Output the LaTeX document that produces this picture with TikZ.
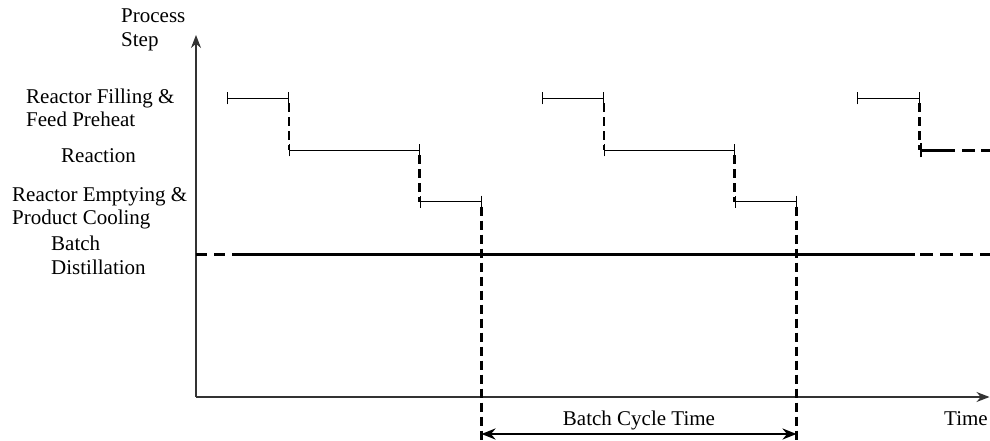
\documentclass[tikz,border=0pt]{standalone}
\usepackage{fontspec}
\setmainfont{Liberation Serif}
\usetikzlibrary{arrows.meta}
\begin{document}
\begin{tikzpicture}[x=1pt,y=-1pt,
  lbl/.style={anchor=base west, inner sep=0pt, font=\fontsize{21}{23}\selectfont},
  axisline/.style={draw=black!80, line width=1.1pt},
  barline/.style={line width=1pt, {Bar[width=12pt]}-{Bar[width=12pt]}},
  dashv/.style={line width=2.4pt, dash pattern=on 9pt off 5pt},
  dashh/.style={line width=2.4pt, dash pattern=on 11pt off 7pt},
  thickline/.style={line width=2.4pt},
  cyctip/.tip={Stealth[length=14pt,width=11pt]},
  axtip/.tip={Stealth[length=13pt,width=10pt]}]
\useasboundingbox (0,0) rectangle (990,441);

% axes
\coordinate (O) at (196,397);
\coordinate (Ytip) at (196,35);
\coordinate (Xtip) at (989.5,397);
\draw[axisline,-{axtip}] (O) -- (Ytip);
\draw[axisline,-{axtip}] (O) -- (Xtip);

% labels
\node[lbl] (process) at (121,22.7) {Process};
\node[lbl] (step) at (121,47) {Step};
\node[lbl] (fill1) at (26,104) {Reactor Filling \&};
\node[lbl] (fill2) at (26,126.7) {Feed Preheat};
\node[lbl] (react) at (61,162.3) {Reaction};
\node[lbl] (empt1) at (12,201.5) {Reactor Emptying \&};
\node[lbl] (empt2) at (12,224) {Product Cooling};
\node[lbl] (dist1) at (51,250.7) {Batch};
\node[lbl] (dist2) at (51,274) {Distillation};
\node[lbl, anchor=base] (bct) at (639,425) {Batch Cycle Time};
\node[lbl] (time) at (944,425) {Time};

% two full cycles
\foreach \k/\d in {1/0,2/315}{
  \coordinate (fs\k) at (226.7+\d,98.3);
  \coordinate (fe\k) at (289+\d,98.3);
  \coordinate (rs\k) at (289+\d,150.3);
  \coordinate (re\k) at (419.5+\d,150.3);
  \coordinate (es\k) at (419.5+\d,201.7);
  \coordinate (ee\k) at (481.5+\d,201.7);
  \coordinate (eb\k) at (481.5+\d,441);
  \draw[barline] (fs\k) -- (fe\k);
  \draw[barline] (rs\k) -- (re\k);
  \draw[barline] (es\k) -- (ee\k);
  \draw[dashv] (fe\k) ++(0,5) -- (rs\k);
  \draw[dashv] (re\k) ++(0,5) -- (es\k);
  \draw[dashv] (ee\k) ++(0,5) -- (eb\k);
}

% third cycle (partial)
\coordinate (fs3) at (856.7,98.3);
\coordinate (fe3) at (919.5,98.3);
\coordinate (rs3) at (919.5,150.3);
\coordinate (rm3) at (955,150.3);
\coordinate (rd3) at (962,150.3);
\coordinate (rx3) at (990,150.3);
\draw[barline] (fs3) -- (fe3);
\draw[dashv] (fe3) ++(0,5) -- (rs3);
\draw[thickline, {Bar[width=14pt]}-] (rs3) -- (rm3);
\draw[line width=2.4pt, dash pattern=on 13pt off 6pt] (rd3) -- (rx3);

% batch distillation line
\coordinate (bd0) at (196,254.5);
\coordinate (bd1) at (235,254.5);
\coordinate (bd2) at (915,254.5);
\coordinate (bd3) at (990,254.5);
\draw[dashh] (bd0) -- (bd1);
\draw[thickline] (bd1) -- (bd2);
\draw[line width=2.4pt, dash pattern=on 13pt off 7pt] ([xshift=5pt]bd2) -- (bd3);

% batch cycle time arrow
\coordinate (ca) at (481.5,434);
\coordinate (cb) at (796.5,434);
\draw[thickline, {cyctip}-{cyctip}] (ca) -- (cb);
\end{tikzpicture}
\end{document}
